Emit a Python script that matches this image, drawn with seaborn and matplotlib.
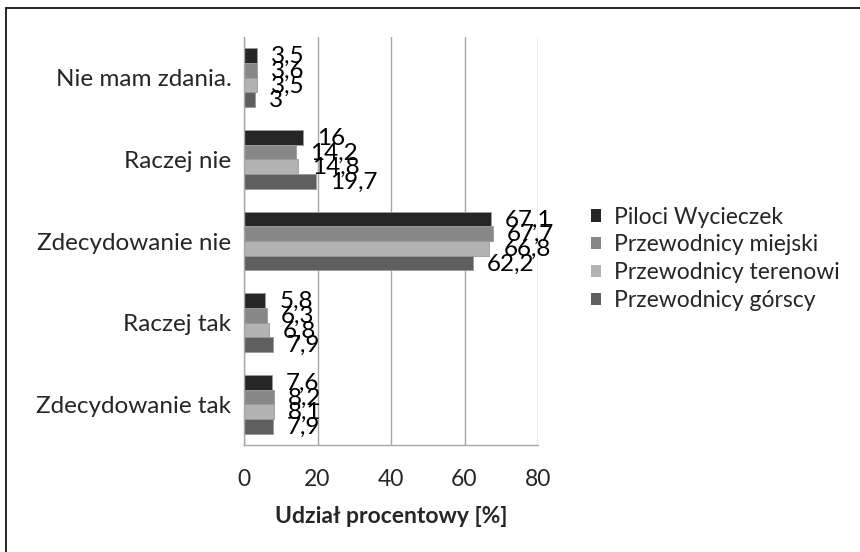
import matplotlib
matplotlib.use("Agg")
import matplotlib.pyplot as plt
from matplotlib.lines import Line2D
from matplotlib.patches import Patch
import seaborn as sns
import pandas as pd

categories = ["Nie mam zdania.", "Raczej nie", "Zdecydowanie nie", "Raczej tak", "Zdecydowanie tak"]
series = ["Piloci Wycieczek", "Przewodnicy miejski", "Przewodnicy terenowi", "Przewodnicy górscy"]
piloci = [3.5, 16, 67.1, 5.8, 7.6]
miejscy = [3.6, 14.2, 67.7, 6.3, 8.2]
terenowi = [3.5, 14.8, 66.8, 6.8, 8.1]
gorscy = [3, 19.7, 62.2, 7.9, 7.9]
x_ticks = [0, 20, 40, 60, 80]
x_label = "Udział procentowy [%]"

colors = ["#262626", "#878787", "#b3b3b3", "#5f5f5f"]

rows = []
for name, vals in zip(series, [piloci, miejscy, terenowi, gorscy]):
    for cat, v in zip(categories, vals):
        rows.append({"kategoria": cat, "grupa": name, "wartosc": v})
df = pd.DataFrame(rows)

sns.set_theme(style="white")
plt.rcParams["font.family"] = ["Lato", "DejaVu Sans"]

fig = plt.figure(figsize=(8.6, 5.52), dpi=100)
ax = fig.add_axes([244 / 860, 1 - 445 / 552, (538 - 244) / 860, (445 - 37) / 552])

sns.barplot(data=df, y="kategoria", x="wartosc", hue="grupa",
            order=categories, hue_order=series, palette=colors,
            orient="h", width=0.72, ax=ax, legend=False,
            edgecolor="#9a9a9a", linewidth=0.6, saturation=1)

ax.set_xlim(0, 80)
ax.set_ylim(len(categories) - 0.5, -0.5)
ax.set_xticks(x_ticks)
ax.set_xticklabels([str(t) for t in x_ticks], fontsize=16.5)
ax.xaxis.grid(True, color="#a6a6a6", linewidth=1)
ax.set_axisbelow(True)
ax.tick_params(axis="x", length=6, color="#a6a6a6", direction="out", pad=11)

ax.set_yticks(range(len(categories)))
ax.set_yticklabels(categories, fontsize=17.5)
ax.tick_params(axis="y", which="major", length=0, pad=9)
ax.set_yticks([i - 0.5 for i in range(len(categories) + 1)], minor=True)
ax.tick_params(axis="y", which="minor", length=6, color="#a6a6a6", direction="out")

ax.set_xlabel(x_label, fontsize=16.5, fontweight="bold", labelpad=12)
ax.set_ylabel("")

for s in ["top", "right"]:
    ax.spines[s].set_visible(False)
for s in ["left", "bottom"]:
    ax.spines[s].set_color("#a6a6a6")
    ax.spines[s].set_linewidth(1)

# value labels
for container in ax.containers:
    labels = [f"{v:g}".replace(".", ",") for v in container.datavalues]
    for bar, lab in zip(container, labels):
        ax.annotate(lab, (bar.get_width(), bar.get_y() + bar.get_height() / 2),
                    xytext=(14, -1), textcoords="offset pixels",
                    ha="left", va="center", fontsize=17.5, color="black")

handles = [Patch(facecolor=c, edgecolor="none") for c in colors]
fig.legend(handles, series, loc="upper left", bbox_to_anchor=(570 / 860, 1 - 186 / 552),
           frameon=False, fontsize=16.5, handlelength=0.45, handleheight=0.45,
           handletextpad=0.55, labelspacing=0.3)

# outer frame
fig.add_artist(Line2D([6 / 860, 1], [1 - 8 / 552, 1 - 8 / 552], transform=fig.transFigure,
                      color="black", linewidth=1.2))
fig.add_artist(Line2D([6 / 860, 6 / 860], [0, 1 - 8 / 552], transform=fig.transFigure,
                      color="black", linewidth=1.2))

fig.savefig("out.png", dpi=100)
